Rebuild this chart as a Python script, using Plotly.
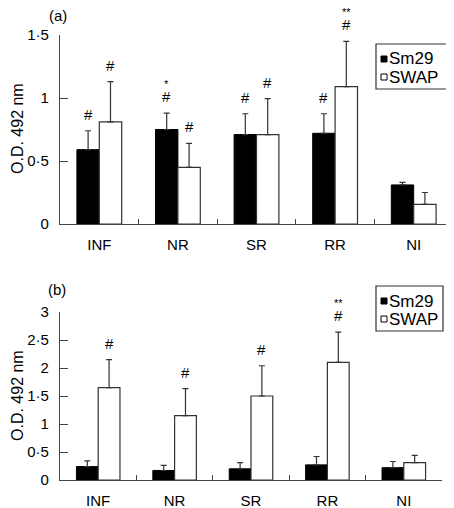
import plotly.graph_objects as go

# ---------------- data ----------------
categories = ["INF", "NR", "SR", "RR", "NI"]

a_sm29 = [0.59, 0.75, 0.71, 0.72, 0.31]
a_sm29_err = [0.15, 0.13, 0.165, 0.155, 0.02]
a_swap = [0.81, 0.45, 0.71, 1.09, 0.155]
a_swap_err = [0.32, 0.19, 0.285, 0.36, 0.095]

b_sm29 = [0.24, 0.17, 0.20, 0.27, 0.22]
b_sm29_err = [0.10, 0.09, 0.11, 0.15, 0.11]
b_swap = [1.65, 1.15, 1.50, 2.10, 0.31]
b_swap_err = [0.50, 0.48, 0.54, 0.54, 0.13]

a_sm29_hash = ["#", "#", "#", "#", ""]
a_sm29_star = ["", "*", "", "", ""]
a_swap_hash = ["#", "#", "#", "#", ""]
a_swap_star = ["", "", "", "**", ""]
b_sm29_hash = ["", "", "", "", ""]
b_sm29_star = ["", "", "", "", ""]
b_swap_hash = ["#", "#", "#", "#", ""]
b_swap_star = ["", "", "", "**", ""]

a_ticks = [0, 0.5, 1, 1.5]
a_ticktext = ["0", "0·5", "1", "1·5"]
b_ticks = [0, 0.5, 1, 1.5, 2, 2.5, 3]
b_ticktext = ["0", "0·5", "1", "1·5", "2", "2·5", "3"]

series_names = ["Sm29", "SWAP"]
y_title = "O.D. 492 nm"

# ---------------- layout helpers ----------------
OFF = 8                      # page body margin
W, H = 454 - OFF, 508 - OFF
FONT = "Liberation Sans, Arial, Helvetica, sans-serif"
AXC = "#444444"
BARGAP = 0.43


def px(x):
    return (x - OFF) / W


def py(y):
    return 1 - (y - OFF) / H


fig = go.Figure()

panels = [
    dict(xa="x", ya="y", sm=a_sm29, sme=a_sm29_err, sw=a_swap, swe=a_swap_err,
         smh=a_sm29_hash, sms=a_sm29_star, swh=a_swap_hash, sws=a_swap_star),
    dict(xa="x2", ya="y2", sm=b_sm29, sme=b_sm29_err, sw=b_swap, swe=b_swap_err,
         smh=b_sm29_hash, sms=b_sm29_star, swh=b_swap_hash, sws=b_swap_star),
]

for p in panels:
    fig.add_trace(go.Bar(
        x=categories, y=p["sm"], name=series_names[0], xaxis=p["xa"], yaxis=p["ya"],
        marker=dict(color="black", line=dict(color="black", width=1)),
        error_y=dict(type="data", array=p["sme"], arrayminus=[0] * 5, symmetric=False,
                     color="#333333", thickness=1.2, width=3),
        showlegend=False, offsetgroup="1"))
    fig.add_trace(go.Bar(
        x=categories, y=p["sw"], name=series_names[1], xaxis=p["xa"], yaxis=p["ya"],
        marker=dict(color="white", line=dict(color="#333333", width=1.2)),
        error_y=dict(type="data", array=p["swe"], arrayminus=[0] * 5, symmetric=False,
                     color="#333333", thickness=1.2, width=3),
        showlegend=False, offsetgroup="2"))

annotations = []
off = (1 - BARGAP) / 4
for p in panels:
    for i in range(len(categories)):
        for sign, vals, errs, hashes, stars in [
            (-1, p["sm"], p["sme"], p["smh"], p["sms"]),
            (1, p["sw"], p["swe"], p["swh"], p["sws"]),
        ]:
            top = vals[i] + errs[i]
            xpos = i + sign * off
            if hashes[i]:
                annotations.append(dict(x=xpos, y=top, xref=p["xa"], yref=p["ya"],
                                        text=hashes[i], showarrow=False, xanchor="center",
                                        yanchor="bottom", yshift=6,
                                        font=dict(size=15, color="black", family=FONT)))
            if stars[i]:
                annotations.append(dict(x=xpos, y=top, xref=p["xa"], yref=p["ya"],
                                        text=stars[i], showarrow=False, xanchor="center",
                                        yanchor="bottom", yshift=21,
                                        font=dict(size=11, color="black", family=FONT)))

# panel labels and y titles
for txt, x, y, ang, fs in [("(a)", 58, 15, 0, 15), ("(b)", 57, 289, 0, 15),
                           (y_title, 17, 129, -90, 16), (y_title, 17, 396, -90, 16)]:
    annotations.append(dict(x=px(x), y=py(y), xref="paper", yref="paper", text=txt,
                            textangle=ang, showarrow=False, xanchor="center", yanchor="middle",
                            font=dict(size=fs, color="black", family=FONT)))

# custom legends
shapes = []
for (x0, x1, y0, y1) in [(376, 452, 44, 89), (376, 443, 286, 331)]:
    shapes.append(dict(type="rect", xref="paper", yref="paper", x0=px(x0), x1=px(x1),
                       y0=py(y0), y1=py(y1), line=dict(color="#333333", width=1.2),
                       fillcolor="white"))
    for k, (nm, fill) in enumerate(zip(series_names, ["black", "white"])):
        cy = y0 + 15 + 18 * k
        shapes.append(dict(type="rect", xref="paper", yref="paper", x0=px(x0 + 5),
                           x1=px(x0 + 11), y0=py(cy - 3), y1=py(cy + 3),
                           line=dict(color="black", width=1), fillcolor=fill))
        annotations.append(dict(x=px(x0 + 11), y=py(cy), xref="paper", yref="paper",
                                text=nm, xanchor="left", yanchor="middle", showarrow=False,
                                font=dict(size=17, color="black", family=FONT)))

common_x = dict(type="category", range=[-0.5, 4.5], showline=True, linecolor=AXC, linewidth=1.2,
                ticks="inside", tickson="boundaries", ticklen=5, tickcolor=AXC, tickwidth=1.2,
                showgrid=False, zeroline=False, tickfont=dict(size=15, color="black", family=FONT),
                ticklabelstandoff=7, automargin=False, fixedrange=True)
common_y = dict(showline=True, linecolor=AXC, linewidth=1.2, ticks="inside", ticklen=8,
                tickcolor=AXC, tickwidth=1.2, showgrid=False, zeroline=False,
                tickfont=dict(size=15, color="black", family=FONT), ticklabelstandoff=7,
                automargin=False, fixedrange=True)

fig.update_layout(
    width=W, height=H,
    margin=dict(l=0, r=0, t=0, b=0),
    paper_bgcolor="white", plot_bgcolor="white",
    barmode="group", bargap=BARGAP, bargroupgap=0,
    showlegend=False,
    font=dict(family=FONT, size=15, color="black"),
    xaxis=dict(common_x, domain=[px(60), px(453)], anchor="y"),
    yaxis=dict(common_y, domain=[py(224), py(35)], range=[0, 1.5], tickvals=a_ticks,
               ticktext=a_ticktext, anchor="x"),
    xaxis2=dict(common_x, domain=[px(60), px(442)], anchor="y2"),
    yaxis2=dict(common_y, domain=[py(480), py(312)], range=[0, 3], tickvals=b_ticks,
                ticktext=b_ticktext, anchor="x2"),
    annotations=annotations,
    shapes=shapes,
)

fig.write_html("out.html")
